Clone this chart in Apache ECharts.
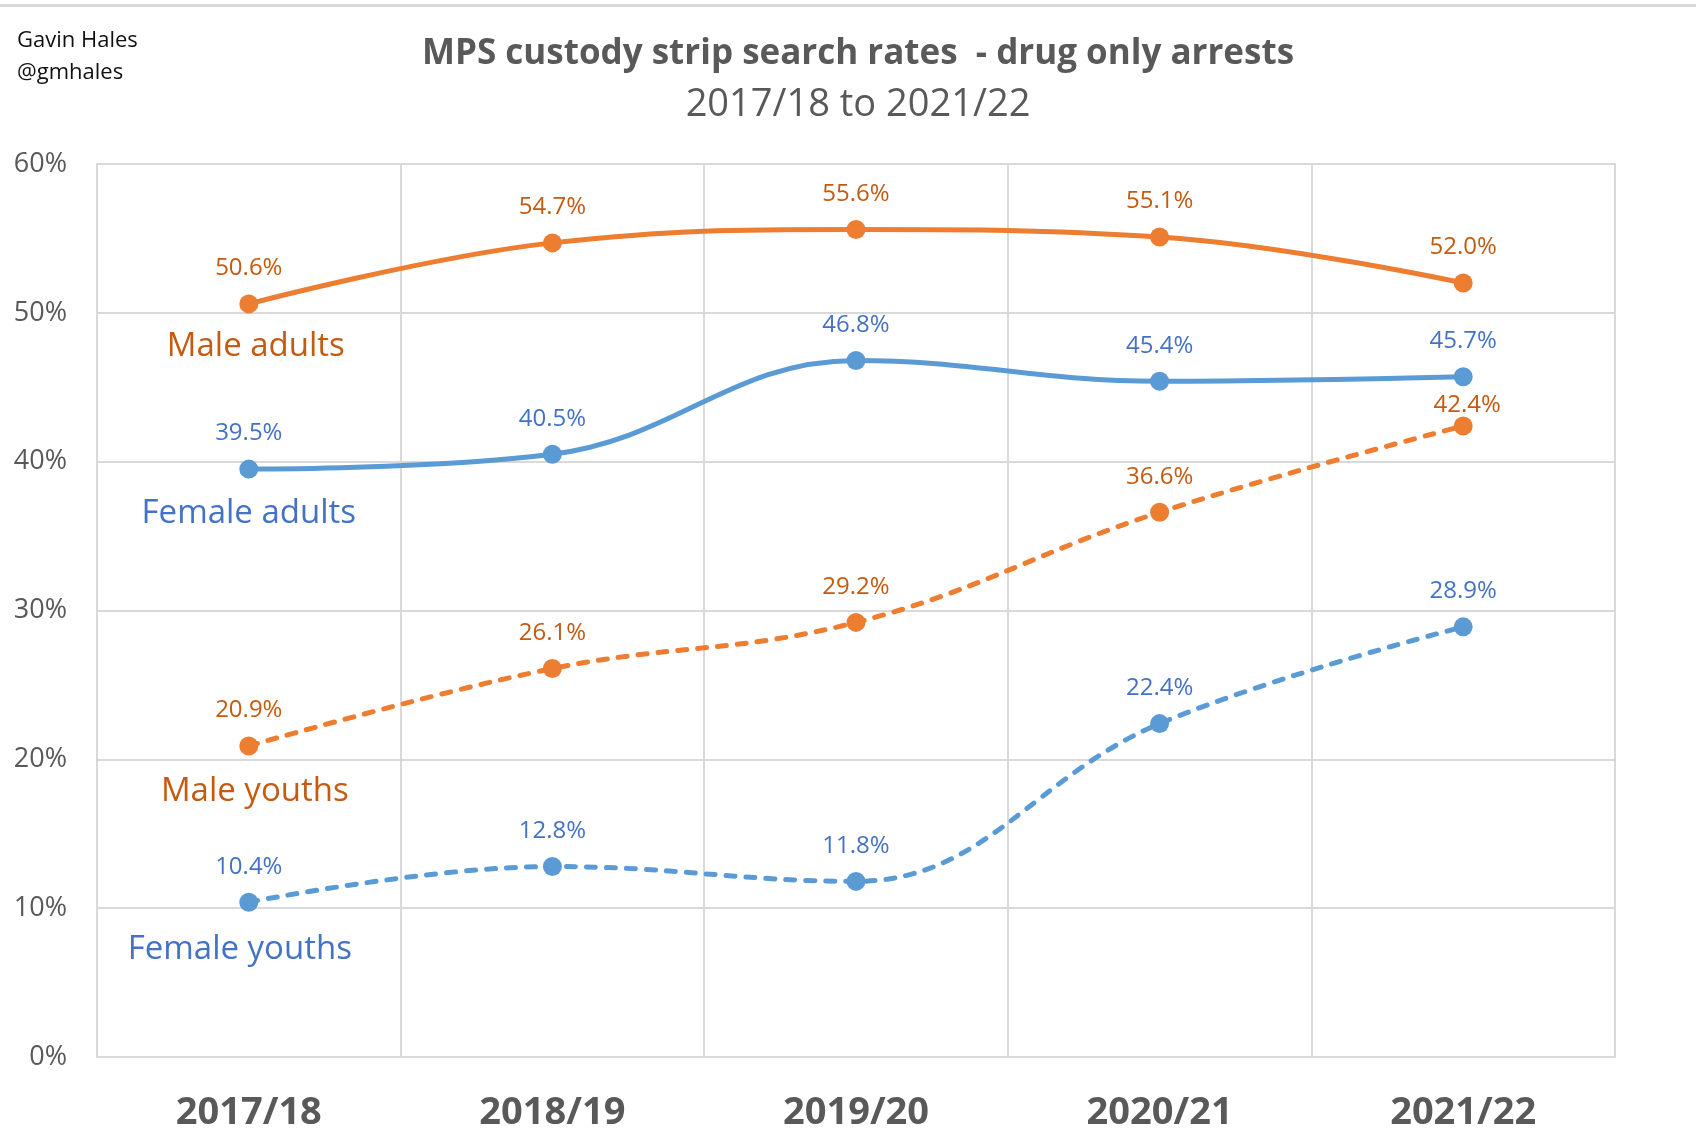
<!DOCTYPE html>
<html>
<head>
<meta charset="utf-8">
<script src="https://cdn.jsdelivr.net/npm/echarts@6/dist/echarts.min.js"></script>
<style>
html,body{margin:0;padding:0;background:#fff;}
#chart{width:1696px;height:1129px;}
</style>
</head>
<body>
<div id="chart"></div>
<script>
const categories = ['2017/18', '2018/19', '2019/20', '2020/21', '2021/22'];
const maleAdults = [50.6, 54.7, 55.6, 55.1, 52.0];
const femaleAdults = [39.5, 40.5, 46.8, 45.4, 45.7];
const maleYouths = [20.9, 26.1, 29.2, 36.6, 42.4];
const femaleYouths = [10.4, 12.8, 11.8, 22.4, 28.9];
const seriesNames = ['Male adults', 'Female adults', 'Male youths', 'Female youths'];
const yTicks = [0, 10, 20, 30, 40, 50, 60];

const FONT = '"Open Sans", "Noto Sans", sans-serif';
const ORANGE = '#ED7D31', ORANGE_TXT = '#C55A11';
const BLUE = '#5B9BD5', BLUE_TXT = '#4472C4';

function makeSeries(name, data, color, txtColor, dashed, nameOffset) {
  return {
    name: name,
    type: 'line',
    data: data.map(v => ({ value: v })),
    smooth: 0.4,
    symbol: 'circle',
    symbolSize: 19,
    itemStyle: { color: color },
    lineStyle: { color: color, width: 5, type: dashed ? [9, 11] : 'solid', cap: 'round' },
    label: {
      show: true, position: 'top', distance: 14,
      formatter: p => p.value.toFixed(1) + '%',
      color: txtColor, fontFamily: FONT, fontSize: 24
    },
    markPoint: {
      symbol: 'circle', symbolSize: 0, silent: true,
      data: [{ coord: [categories[0], data[0]] }],
      label: {
        show: true, formatter: name, offset: nameOffset,
        color: txtColor, fontFamily: FONT, fontSize: 33
      }
    },
    z: 3
  };
}

const seriesList = [
  makeSeries(seriesNames[0], maleAdults, ORANGE, ORANGE_TXT, false, [7, 43]),
  makeSeries(seriesNames[1], femaleAdults, BLUE, BLUE_TXT, false, [0, 44]),
  makeSeries(seriesNames[2], maleYouths, ORANGE, ORANGE_TXT, true, [6, 46]),
  makeSeries(seriesNames[3], femaleYouths, BLUE, BLUE_TXT, true, [-9, 47])
];
// the 2021/22 male youths label sits a little lower to clear the line above
seriesList[2].data[4].label = { offset: [4, 15] };

const chart = echarts.init(document.getElementById('chart'), null, { renderer: 'canvas' });
chart.setOption({
  backgroundColor: '#ffffff',
  animation: false,
  title: [
    { text: 'MPS custody strip search rates  - drug only arrests', left: 858, top: 37, textAlign: 'center', padding: 0,
      textStyle: { fontFamily: FONT, fontSize: 35, fontWeight: 'bold', color: '#595959' } },
    { text: '2017/18 to 2021/22', left: 858, top: 86, textAlign: 'center', padding: 0,
      textStyle: { fontFamily: FONT, fontSize: 38, fontWeight: 'normal', color: '#595959' } },
    { text: 'Gavin Hales\n@gmhales', left: 17, top: 25, padding: 0,
      textStyle: { fontFamily: FONT, fontSize: 22, fontWeight: 'normal', color: '#111', lineHeight: 32 } }
  ],
  graphic: [
    { type: 'rect', left: 0, top: 4, shape: { width: 1696, height: 3 }, style: { fill: '#d9d9d9' }, silent: true }
  ],
  grid: { left: 97, right: 81, top: 164, bottom: 72, show: true, borderColor: '#d9d9d9', borderWidth: 2,
          containLabel: false, outerBoundsMode: 'none' },
  xAxis: {
    type: 'category', data: categories, boundaryGap: true,
    axisLine: { show: true, lineStyle: { color: '#d9d9d9', width: 2 } },
    axisTick: { show: false },
    splitLine: { show: true, lineStyle: { color: '#d9d9d9', width: 2 } },
    axisLabel: { fontFamily: FONT, fontSize: 38, fontWeight: 'bold', color: '#595959', margin: 37 }
  },
  yAxis: {
    type: 'value', min: yTicks[0], max: yTicks[yTicks.length - 1], interval: 10,
    axisLine: { show: false }, axisTick: { show: false },
    splitLine: { lineStyle: { color: '#d9d9d9', width: 2 } },
    axisLabel: { formatter: v => v + '%', fontFamily: FONT, fontSize: 27, color: '#595959', margin: 30 }
  },
  series: seriesList
});
</script>
</body>
</html>
